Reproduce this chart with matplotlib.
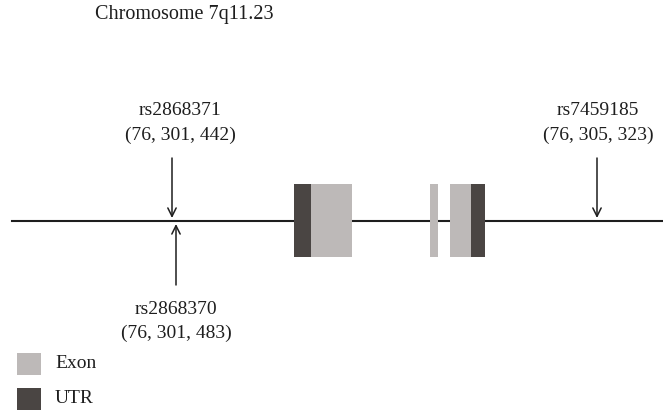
import matplotlib.pyplot as plt
from matplotlib.patches import Rectangle

# gene structure (x extents along the locus, drawing units)
exon_blocks = [(311, 352), (430, 438), (450, 471)]
utr_blocks = [(294, 311), (471, 485)]

# SNPs: label, position (x), coordinate text, side
snp_names = ["rs2868371", "rs2868370", "rs7459185"]
snp_pos = [172, 176, 597]
snp_coords = ["(76, 301, 442)", "(76, 301, 483)", "(76, 305, 323)"]
snp_side = ["above", "below", "above"]
label_x = [180, 176, 598]

title_text = "Chromosome 7q11.23"
legend_labels = ["Exon", "UTR"]

EXON_C = "#bdb9b8"
UTR_C = "#4a4543"
INK = "#1e1e1e"
FONT = ["Liberation Serif", "DejaVu Serif"]

fig = plt.figure(figsize=(6.63, 4.11), dpi=100)
ax = fig.add_axes([0, 0, 1, 1])
ax.set_xlim(0, 663)
ax.set_ylim(411, 0)
ax.axis("off")

line_y = 221
ax.plot([12, 663], [line_y, line_y], color=INK, lw=1.5, zorder=1)

box_top, box_bot = 184, 257
for a, b in exon_blocks:
    ax.add_patch(Rectangle((a, box_top), b - a, box_bot - box_top, facecolor=EXON_C, edgecolor="none", zorder=2))
for a, b in utr_blocks:
    ax.add_patch(Rectangle((a, box_top), b - a, box_bot - box_top, facecolor=UTR_C, edgecolor="none", zorder=2))

fs = 14
arrow = dict(arrowstyle="->,head_length=0.6,head_width=0.3", color=INK, lw=1.1, shrinkA=0, shrinkB=0)
for name, x, coord, side, lx in zip(snp_names, snp_pos, snp_coords, snp_side, label_x):
    if side == "above":
        ax.annotate("", xy=(x, 218), xytext=(x, 158), arrowprops=arrow)
        ax.text(lx, 110, name, ha="center", va="center", fontsize=fs, family=FONT, color=INK)
        ax.text(lx, 135, coord, ha="center", va="center", fontsize=fs, family=FONT, color=INK)
    else:
        ax.annotate("", xy=(x, 224), xytext=(x, 285), arrowprops=arrow)
        ax.text(lx, 309, name, ha="center", va="center", fontsize=fs, family=FONT, color=INK)
        ax.text(lx, 333, coord, ha="center", va="center", fontsize=fs, family=FONT, color=INK)

ax.text(184, 15, title_text, ha="center", va="center", fontsize=14.5, family=FONT, color=INK)

for i, (lab, col) in enumerate(zip(legend_labels, [EXON_C, UTR_C])):
    y0 = 353 + i * 35
    ax.add_patch(Rectangle((17, y0), 24, 22, facecolor=col, edgecolor="none"))
    ax.text(55, y0 + 10, lab, ha="left", va="center", fontsize=fs, family=FONT, color=INK)

fig.savefig("out.png", dpi=100)
